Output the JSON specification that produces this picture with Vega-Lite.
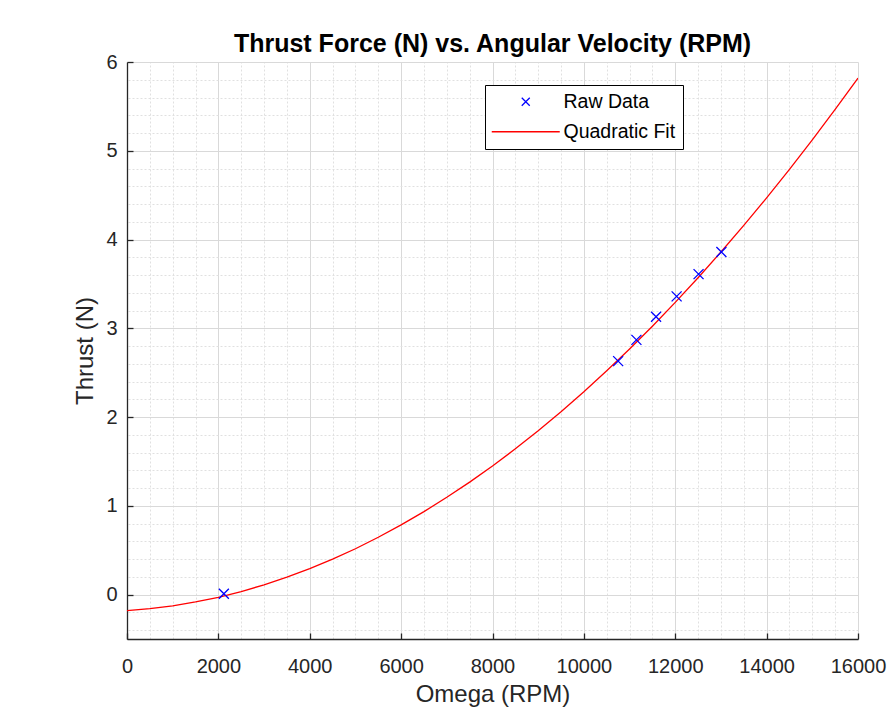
{
  "$schema": "https://vega.github.io/schema/vega-lite/v6.json",
  "width": 731,
  "height": 577,
  "autosize": {"type": "none"},
  "padding": {"left": 127, "top": 62, "right": 33, "bottom": 70},
  "background": "white",
  "config": {"view": {"stroke": null}, "font": "Liberation Sans"},
  "title": {
    "text": "Thrust Force (N) vs. Angular Velocity (RPM)",
    "font": "Liberation Sans",
    "fontSize": 25,
    "fontWeight": "bold",
    "color": "#000000",
    "anchor": "middle",
    "baseline": "alphabetic",
    "offset": 10,
    "dy": 35
  },
  "datasets": {
    "raw": [
      {"omega": 2120, "thrust": 0.01, "series": "Raw Data"},
      {"omega": 10750, "thrust": 2.63, "series": "Raw Data"},
      {"omega": 11150, "thrust": 2.87, "series": "Raw Data"},
      {"omega": 11580, "thrust": 3.13, "series": "Raw Data"},
      {"omega": 12030, "thrust": 3.36, "series": "Raw Data"},
      {"omega": 12510, "thrust": 3.61, "series": "Raw Data"},
      {"omega": 13010, "thrust": 3.86, "series": "Raw Data"}
    ],
    "fit": [
      {"omega": 0, "thrust": -0.180},
      {"omega": 500, "thrust": -0.158},
      {"omega": 1000, "thrust": -0.126},
      {"omega": 1500, "thrust": -0.083},
      {"omega": 2000, "thrust": -0.030},
      {"omega": 2500, "thrust": 0.035},
      {"omega": 3000, "thrust": 0.110},
      {"omega": 3500, "thrust": 0.196},
      {"omega": 4000, "thrust": 0.292},
      {"omega": 4500, "thrust": 0.399},
      {"omega": 5000, "thrust": 0.517},
      {"omega": 5500, "thrust": 0.646},
      {"omega": 6000, "thrust": 0.785},
      {"omega": 6500, "thrust": 0.935},
      {"omega": 7000, "thrust": 1.096},
      {"omega": 7500, "thrust": 1.267},
      {"omega": 8000, "thrust": 1.449},
      {"omega": 8500, "thrust": 1.642},
      {"omega": 9000, "thrust": 1.846},
      {"omega": 9500, "thrust": 2.060},
      {"omega": 10000, "thrust": 2.285},
      {"omega": 10500, "thrust": 2.521},
      {"omega": 11000, "thrust": 2.767},
      {"omega": 11500, "thrust": 3.024},
      {"omega": 12000, "thrust": 3.292},
      {"omega": 12500, "thrust": 3.570},
      {"omega": 13000, "thrust": 3.860},
      {"omega": 13500, "thrust": 4.159},
      {"omega": 14000, "thrust": 4.470},
      {"omega": 14500, "thrust": 4.791},
      {"omega": 15000, "thrust": 5.123},
      {"omega": 15500, "thrust": 5.466},
      {"omega": 16000, "thrust": 5.819}
    ]
  },
  "layer": [
    {
      "data": {"name": "fit"},
      "mark": {"type": "line", "color": "#ff0000", "strokeWidth": 1.3, "clip": true},
      "encoding": {
        "x": {
          "field": "omega", "type": "quantitative",
          "scale": {"domain": [0, 16000], "nice": false},
          "axis": {
            "orient": "top", "title": null, "labels": false, "ticks": false, "domain": false,
            "minExtent": 0, "maxExtent": 0, "offset": 0,
            "grid": true, "gridDash": [2, 2], "gridColor": "#e0e0e0", "gridWidth": 1,
            "values": [500, 1000, 1500, 2500, 3000, 3500, 4500, 5000, 5500, 6500, 7000, 7500, 8500, 9000, 9500, 10500, 11000, 11500, 12500, 13000, 13500, 14500, 15000, 15500]
          }
        },
        "y": {
          "field": "thrust", "type": "quantitative",
          "scale": {"domain": [-0.5, 6], "nice": false, "zero": false},
          "axis": {
            "orient": "right", "title": null, "labels": false, "ticks": false, "domain": false,
            "minExtent": 0, "maxExtent": 0, "offset": 0,
            "grid": true, "gridDash": [2, 2], "gridColor": "#e0e0e0", "gridWidth": 1,
            "values": [-0.4, -0.2, 0.2, 0.4, 0.6, 0.8, 1.2, 1.4, 1.6, 1.8, 2.2, 2.4, 2.6, 2.8, 3.2, 3.4, 3.6, 3.8, 4.2, 4.4, 4.6, 4.8, 5.2, 5.4, 5.6, 5.8]
          }
        }
      }
    },
    {
      "data": {"name": "raw"},
      "mark": {"type": "point", "filled": false, "size": 100, "strokeWidth": 1.3, "opacity": 1},
      "encoding": {
        "x": {
          "field": "omega", "type": "quantitative",
          "scale": {"domain": [0, 16000], "nice": false},
          "axis": {
            "orient": "bottom", "title": "Omega (RPM)",
            "values": [0, 2000, 4000, 6000, 8000, 10000, 12000, 14000, 16000],
            "format": "d", "labelFlush": false, "labelOverlap": false, "labelBound": false,
            "grid": true, "gridColor": "#d9d9d9", "gridWidth": 1,
            "domain": true, "domainColor": "#262626", "domainWidth": 1.3,
            "ticks": true, "tickColor": "#262626", "tickSize": -6, "tickWidth": 1.3,
            "labelFont": "Liberation Sans", "labelFontSize": 20, "labelColor": "#262626", "labelPadding": 23,
            "titleFont": "Liberation Sans", "titleFontSize": 24, "titleFontWeight": "normal", "titleColor": "#262626", "titlePadding": 6
          }
        },
        "y": {
          "field": "thrust", "type": "quantitative",
          "scale": {"domain": [-0.5, 6], "nice": false, "zero": false},
          "axis": {
            "orient": "left", "title": "Thrust (N)",
            "values": [0, 1, 2, 3, 4, 5, 6],
            "format": "d", "labelFlush": false, "labelOverlap": false, "labelBound": false,
            "grid": true, "gridColor": "#d9d9d9", "gridWidth": 1,
            "domain": true, "domainColor": "#262626", "domainWidth": 1.3,
            "ticks": true, "tickColor": "#262626", "tickSize": -6, "tickWidth": 1.3,
            "labelFont": "Liberation Sans", "labelFontSize": 20, "labelColor": "#262626", "labelPadding": 16,
            "titleFont": "Liberation Sans", "titleFontSize": 24, "titleFontWeight": "normal", "titleColor": "#262626", "titlePadding": 8
          }
        },
        "color": {
          "field": "series", "type": "nominal",
          "scale": {"domain": ["Raw Data", "Quadratic Fit"], "range": ["#0000ff", "#ff0000"]},
          "legend": {
            "title": null, "orient": "none", "legendX": 358, "legendY": 23,
            "padding": 7, "strokeColor": "#000000", "fillColor": "#ffffff",
            "symbolSize": 64, "symbolOffset": 24, "labelOffset": 28, "rowPadding": 9,
            "symbolStrokeWidth": 1.3, "labelFont": "Liberation Sans", "labelFontSize": 19.5, "labelColor": "#000000"
          }
        },
        "shape": {
          "field": "series", "type": "nominal",
          "scale": {"domain": ["Raw Data", "Quadratic Fit"], "range": ["M-1,-1L1,1M1,-1L-1,1", "M-8.5,0L8.5,0"]},
          "legend": {
            "title": null, "orient": "none", "legendX": 358, "legendY": 23,
            "padding": 7, "strokeColor": "#000000", "fillColor": "#ffffff",
            "symbolSize": 64, "symbolOffset": 24, "labelOffset": 28, "rowPadding": 9,
            "symbolStrokeWidth": 1.3, "labelFont": "Liberation Sans", "labelFontSize": 19.5, "labelColor": "#000000"
          }
        }
      }
    }
  ],
  "resolve": {"axis": {"x": "independent", "y": "independent"}}
}
